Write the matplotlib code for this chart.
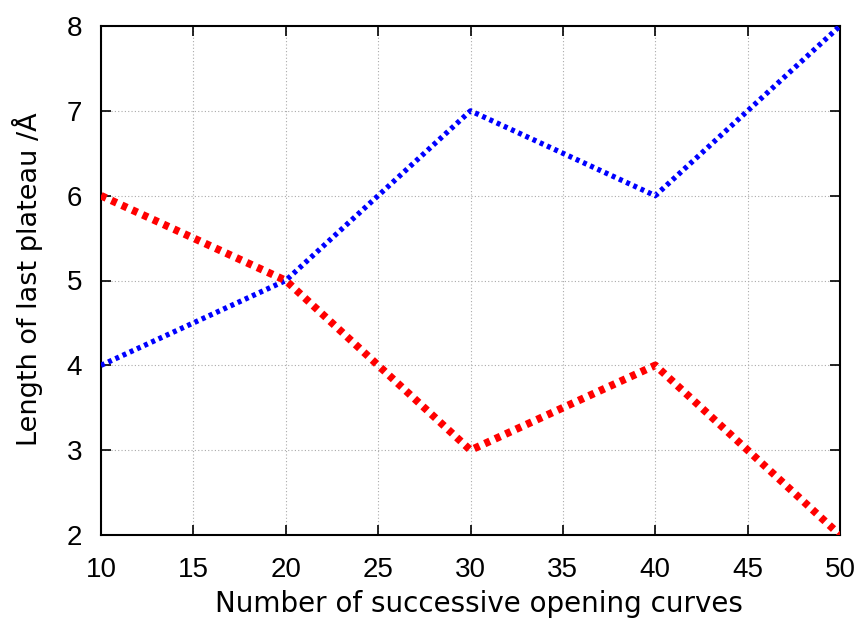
import matplotlib
matplotlib.use("Agg")
import matplotlib.pyplot as plt

x = [10, 20, 30, 40, 50]
blue_y = [4, 5, 7, 6, 8]
red_y = [6, 5, 3, 4, 2]
xticks = [10, 15, 20, 25, 30, 35, 40, 45, 50]
yticks = [2, 3, 4, 5, 6, 7, 8]

plt.rcParams['font.family'] = ['Liberation Sans', 'DejaVu Sans']
W, H = 863, 620
fig = plt.figure(figsize=(W / 100, H / 100), dpi=100)
ax = fig.add_axes([101 / W, 1 - 535 / H, (840 - 101) / W, (535 - 26) / H])

ax.plot(x, blue_y, color='#0000ff', lw=3.8, linestyle=(0, (0.75, 0.75)), dash_capstyle='butt', zorder=3)
ax.plot(x, red_y, color='#ff0000', lw=5.5, linestyle=(0, (0.75, 0.75)), dash_capstyle='butt', zorder=3)

ax.set_xlim(10, 50)
ax.set_ylim(2, 8)
ax.set_xticks(xticks)
ax.set_yticks(yticks)
ax.tick_params(direction='in', length=7, width=1.2, labelsize=20, top=True, right=True)
ax.tick_params(axis='x', pad=16)
ax.tick_params(axis='y', pad=13.5)
ax.grid(True, color='#aaaaaa', linestyle=(0, (1, 2)), linewidth=0.8)
for s in ax.spines.values():
    s.set_linewidth(1.5)

fig.text(478.5 / W, (H - 612) / H, 'Number of successive opening curves', fontsize=20,
         family=['DejaVu Sans'], ha='center', va='baseline')
fig.text(37 / W, 1 - 279 / H, 'Length of last plateau /Å', fontsize=19.5,
         family=['DejaVu Sans'], rotation=90, rotation_mode='anchor',
         ha='center', va='baseline')

fig.savefig('out.png', dpi=100)
